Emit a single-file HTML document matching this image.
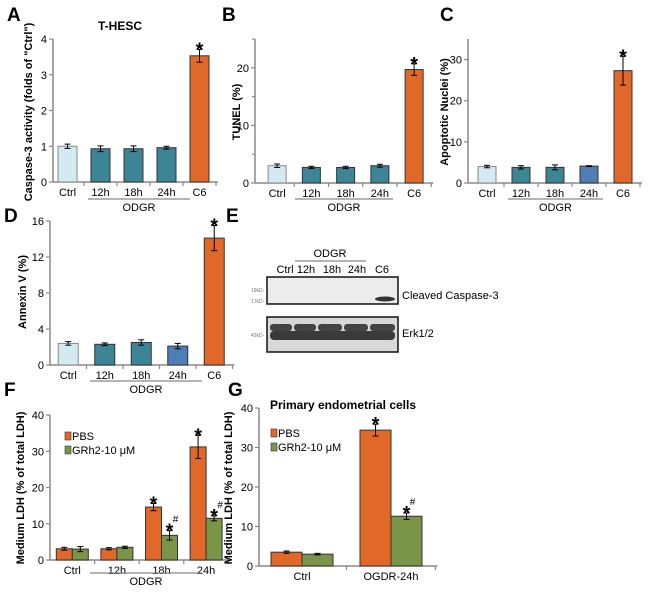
<!DOCTYPE html>
<html><head><meta charset="utf-8">
<style>
html,body{margin:0;padding:0;background:#fff;}
svg{display:block;font-family:"Liberation Sans",Arial,sans-serif;}
</style></head>
<body>
<svg id="fig" width="650" height="596" viewBox="0 0 650 596" xmlns="http://www.w3.org/2000/svg">
  <g font-weight="bold" font-size="19" fill="#000">
    <text x="7" y="21">A</text>
    <text x="222" y="21">B</text>
    <text x="440" y="21">C</text>
    <text x="4" y="222">D</text>
    <text x="226" y="222">E</text>
    <text x="4" y="396">F</text>
    <text x="228" y="396">G</text>
  </g>
  <text x="120" y="30" font-size="12" font-weight="bold" text-anchor="middle">T-HESC</text>
  <text x="343" y="409" font-size="12" font-weight="bold" text-anchor="middle">Primary endometrial cells</text>

  <g font-size="11">
    <text x="330" y="257" text-anchor="middle">ODGR</text>
    <line x1="295" y1="261" x2="366" y2="261" stroke="#888" stroke-width="1.2"/>
    <text x="285" y="273" text-anchor="middle">Ctrl</text>
    <text x="306" y="273" text-anchor="middle">12h</text>
    <text x="332" y="273" text-anchor="middle">18h</text>
    <text x="357" y="273" text-anchor="middle">24h</text>
    <text x="382" y="273" text-anchor="middle">C6</text>
    <rect x="267" y="277" width="131" height="27" fill="#ececec" stroke="#111" stroke-width="1.5"/>
    <ellipse cx="385" cy="299" rx="10" ry="2.5" fill="#333"/>
    <rect x="267" y="317" width="131" height="35" fill="#d8d8d8" stroke="#111" stroke-width="1.5"/>
    <g fill="#444">
      <rect x="270" y="324" width="22" height="7" rx="3"/>
      <rect x="294" y="324" width="22" height="7" rx="3"/>
      <rect x="318" y="324" width="24" height="7" rx="3"/>
      <rect x="344" y="324" width="24" height="7" rx="3"/>
      <rect x="370" y="324" width="25" height="7" rx="3"/>
      <rect x="270" y="331" width="125" height="9" rx="4" fill="#3a3a3a"/>
    </g>
    <g fill="#777" font-size="5">
      <text x="251" y="292">19kD-</text>
      <text x="251" y="303">17kD-</text>
      <text x="251" y="337">42kD-</text>
    </g>
    <text x="402" y="299">Cleaved Caspase-3</text>
    <text x="402" y="337">Erk1/2</text>
  </g>
  <g id="charts"></g>
</svg>
<script>
const aCats = ['Ctrl','12h','18h','24h','C6'];
const aVals = [1.0, 0.93, 0.93, 0.96, 3.53];
const aErr  = [0.06, 0.08, 0.08, 0.04, 0.18];
const bCats = ['Ctrl','12h','18h','24h','C6'];
const bVals = [3.0, 2.7, 2.7, 3.0, 19.7];
const bErr  = [0.3, 0.2, 0.2, 0.25, 1.0];
const cCats = ['Ctrl','12h','18h','24h','C6'];
const cVals = [4.0, 3.8, 3.8, 4.1, 27.3];
const cErr  = [0.3, 0.4, 0.6, 0.1, 3.5];
const dCats = ['Ctrl','12h','18h','24h','C6'];
const dVals = [2.4, 2.3, 2.5, 2.1, 14.1];
const dErr  = [0.2, 0.15, 0.3, 0.3, 1.4];
const fCats = ['Ctrl','12h','18h','24h'];
const fPbs = [3.1, 3.1, 14.6, 31.2];
const fPbsErr = [0.4, 0.3, 1.0, 3.2];
const fGr = [3.0, 3.5, 6.8, 11.5];
const fGrErr = [0.7, 0.3, 1.3, 0.7];
const gCats = ['Ctrl','OGDR-24h'];
const gPbs = [3.5, 34.4];
const gPbsErr = [0.3, 1.5];
const gGr = [3.0, 12.6];
const gGrErr = [0.2, 0.8];
const aTicks = [0,1,2,3,4];
const bTicks = [0,10,20];
const cTicks = [0,10,20,30];
const dTicks = [0,4,8,12,16];
const fTicks = [0,10,20,30,40];
const gTicks = [0,10,20,30,40];

const NS='http://www.w3.org/2000/svg';
const root=document.getElementById('charts');
function mk(tag,attrs,parent){const e=document.createElementNS(NS,tag);for(const k in attrs)e.setAttribute(k,attrs[k]);(parent||root).appendChild(e);return e;}
const COL={light:'#d4eaf2',teal:'#3b8596',blue:'#4f7db6',orange:'#e0692a',green:'#7a9448'};

function chart(p){
  const g=mk('g',{});
  
  
  const y=v=>p.y0-(v/p.yMax)*(p.y0-p.yTop);
  const xc=i=>p.x0+(i+0.5)*p.band;
  const xEnd=p.x0+p.cats.length*p.band+2;
  const ya=mk('line',{x1:p.ax,y1:p.yTop,x2:p.ax,y2:p.y0,stroke:'#888','stroke-width':1.5},g);
  
  
  const xa=mk('line',{x1:p.ax,y1:p.y0,x2:xEnd,y2:p.y0,stroke:'#888','stroke-width':1.5},g);
  
  
  (p.minor||[]).forEach(v=>{mk('line',{x1:p.ax-3,y1:y(v),x2:p.ax,y2:y(v),stroke:'#888','stroke-width':1.2},g);});
  p.ticks.forEach(v=>{
    mk('line',{x1:p.ax-4,y1:y(v),x2:p.ax,y2:y(v),stroke:'#888','stroke-width':1.2},g);
    const t=mk('text',{x:p.ax-6,y:y(v)+4,'font-size':11,'text-anchor':'end'},g);
    
    
    t.textContent=v;
  });
  for(let i=1;i<=p.cats.length;i++){
    mk('line',{x1:p.x0+i*p.band,y1:p.y0,x2:p.x0+i*p.band,y2:p.y0+4,stroke:'#888','stroke-width':1.2},g);
  }
  p.cats.forEach((c,i)=>{
    const t=mk('text',{x:xc(i),y:p.y0+14,'font-size':11,'text-anchor':'middle'},g);
    
    
    t.textContent=c;
  });
  const ns=p.series.length;
  p.series.forEach((s,si)=>{
    s.vals.forEach((v,i)=>{
      const cx=xc(i)+(ns===1?0:(si-(ns-1)/2)*p.bw);
      const col=Array.isArray(s.color)?s.color[i]:s.color;
      const r=mk('rect',{x:cx-p.bw/2,y:y(v),width:p.bw,height:p.y0-y(v),fill:COL[col],stroke:col==='light'?'#888':'#333','stroke-width':1},g);
      
      
      const e=s.err[i], top=y(v+e), bot=y(v-e);
      mk('line',{x1:cx,y1:top,x2:cx,y2:bot,stroke:'#000','stroke-width':1},g);
      mk('line',{x1:cx-3,y1:top,x2:cx+3,y2:top,stroke:'#000','stroke-width':1},g);
      mk('line',{x1:cx-3,y1:bot,x2:cx+3,y2:bot,stroke:'#000','stroke-width':1},g);
      const m=(s.marks||[])[i];
      if(m){
        const st=mk('text',{x:cx,y:top+7,'font-size':20,'font-weight':'bold','text-anchor':'middle'},g);
        
        
        st.textContent='*';
        if(m==='*#'){
          const h=mk('text',{x:cx+6,y:top-8,'font-size':10,'text-anchor':'middle'},g);
          
          
          h.textContent='#';
        }
      }
    });
  });
  const yt=mk('text',{x:p.tx,y:p.ty,'font-size':11,'font-weight':'bold','text-anchor':'middle',transform:`rotate(-90 ${p.tx} ${p.ty})`},g);
  
  
  yt.textContent=p.title;
  if(p.odgr){
    const l=mk('line',{x1:p.odgr[0],y1:p.odgr[2],x2:p.odgr[1],y2:p.odgr[2],stroke:'#888','stroke-width':1.2},g);
    
    
    const t=mk('text',{x:(p.odgr[0]+p.odgr[1])/2,y:p.odgr[2]+12,'font-size':11,'text-anchor':'middle'},g);
    
    
    t.textContent='ODGR';
  }
  if(p.legend){
    ['PBS','GRh2-10 μM'].forEach((lab,k)=>{
      const sq=mk('rect',{x:p.legend[0],y:p.legend[1]+k*14-8,width:6,height:8,fill:COL[k?'green':'orange'],stroke:'#333','stroke-width':0.6},g);
      
      
      const t=mk('text',{x:p.legend[0]+7,y:p.legend[1]+k*14,'font-size':11},g);
      
      
      t.textContent=lab;
    });
  }
}
const colsA=['light','teal','teal','teal','orange'];
const colsC=['light','teal','teal','blue','orange'];
const starC6=['','','','','*'];
chart({name:'chart-a',cats:aCats,ticks:aTicks,yMax:4,yTop:39,y0:182,ax:53,x0:51,band:33,bw:19,
  series:[{key:'a',vals:aVals,err:aErr,color:colsA,marks:starC6}],title:'Caspase-3 activity (folds of "Ctrl")',tx:32,ty:112,odgr:[88,190,199]});
chart({name:'chart-b',cats:bCats,ticks:bTicks,minor:[5,15,25],yMax:25,yTop:39,y0:183,ax:255,x0:260,band:34.25,bw:18,
  series:[{key:'b',vals:bVals,err:bErr,color:colsA,marks:starC6}],title:'TUNEL (%)',tx:240,ty:112,odgr:[295,393,199]});
chart({name:'chart-c',cats:cCats,ticks:cTicks,yMax:35,yTop:39,y0:183,ax:468,x0:470,band:34,bw:18,
  series:[{key:'c',vals:cVals,err:cErr,color:colsC,marks:starC6}],title:'Apoptotic Nuclei (%)',tx:448,ty:112,odgr:[508,603,199]});
chart({name:'chart-d',cats:dCats,ticks:dTicks,yMax:16,yTop:221,y0:365,ax:50,x0:50,band:36.5,bw:20,
  series:[{key:'d',vals:dVals,err:dErr,color:colsC,marks:starC6}],title:'Annexin V (%)',tx:26,ty:292,odgr:[90,202,381]});
chart({name:'chart-f',cats:fCats,ticks:fTicks,yMax:40,yTop:415,y0:560,ax:50,x0:50,band:44.6,bw:16,
  series:[{key:'pbs',vals:fPbs,err:fPbsErr,color:'orange',marks:['','','*','*']},
          {key:'grh2',vals:fGr,err:fGrErr,color:'green',marks:['','','*#','*#']}],
  title:'Medium LDH (% of total LDH)',tx:24,ty:488,odgr:[90,202,573],legend:[65,440]});
chart({name:'chart-g',cats:gCats,ticks:gTicks,yMax:40,yTop:408,y0:566,ax:259,x0:257.5,band:89,bw:31,
  series:[{key:'pbs',vals:gPbs,err:gPbsErr,color:'orange',marks:['','*']},
          {key:'grh2',vals:gGr,err:gGrErr,color:'green',marks:['','*#']}],
  title:'Medium LDH (% of total LDH)',tx:232,ty:488,legend:[271,437]});
</script>
</body></html>
